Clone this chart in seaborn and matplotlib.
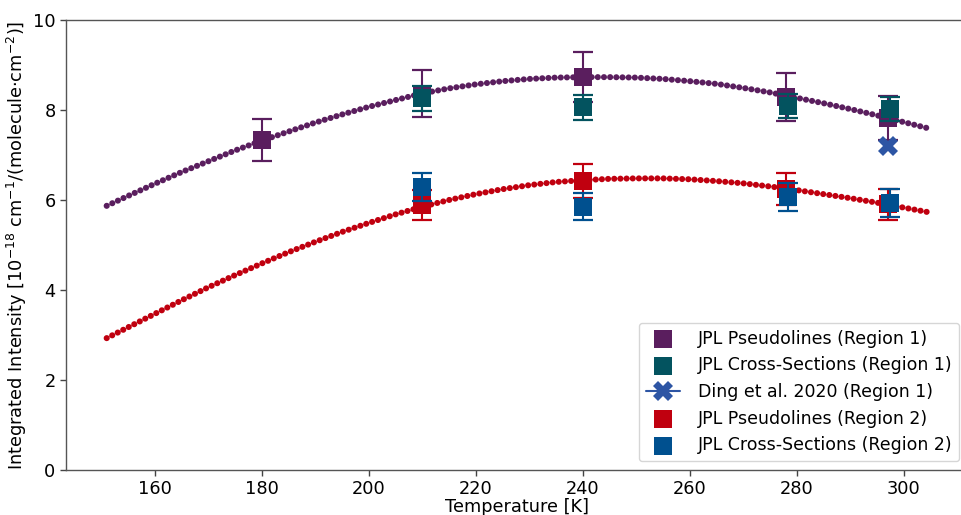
import matplotlib
matplotlib.use("Agg")
import matplotlib.pyplot as plt
import seaborn as sns

# Band-intensity fits (temperature grid and fitted values)
fit_temp = [151, 155, 160, 165, 170, 175, 180, 185, 190, 195, 200, 205, 210, 215,
            220, 225, 230, 235, 240, 245, 250, 255, 260, 265, 270, 275, 280, 285,
            290, 295, 300, 305]
fit_region1 = [5.87, 6.09, 6.36, 6.62, 6.86, 7.10, 7.32, 7.52, 7.72, 7.90, 8.07, 8.22,
               8.37, 8.48, 8.57, 8.64, 8.69, 8.72, 8.73, 8.73, 8.72, 8.69, 8.64, 8.58,
               8.49, 8.39, 8.27, 8.15, 8.02, 7.88, 7.73, 7.58]
fit_region2 = [2.93, 3.17, 3.47, 3.77, 4.06, 4.33, 4.59, 4.84, 5.07, 5.29, 5.49, 5.68,
               5.85, 6.00, 6.13, 6.24, 6.33, 6.40, 6.44, 6.47, 6.48, 6.48, 6.46, 6.42,
               6.37, 6.30, 6.22, 6.13, 6.04, 5.94, 5.83, 5.72]

# Measurements
pl_temp = [180, 210, 240, 278, 297]
pl_r1 = [7.33, 8.36, 8.73, 8.29, 7.82]
pl_r1_err = [0.47, 0.52, 0.56, 0.53, 0.49]
pl_r2 = [None, 5.89, 6.42, 6.24, 5.90]
pl_r2_err = [None, 0.33, 0.38, 0.36, 0.34]

xs_temp = [210, 240, 278.3, 297.5]
xs_r1 = [8.26, 8.06, 8.09, 8.02]
xs_r1_err = [0.28, 0.28, 0.27, 0.27]
xs_r2 = [6.29, 5.85, 6.07, 5.93]
xs_r2_err = [0.32, 0.30, 0.31, 0.31]

ding_temp = [297]
ding_r1 = [7.21]

labels = ["JPL Pseudolines (Region 1)", "JPL Cross-Sections (Region 1)",
          "Ding et al. 2020 (Region 1)", "JPL Pseudolines (Region 2)",
          "JPL Cross-Sections (Region 2)"]

c_pl1 = "#5A1E5E"
c_xs1 = "#03535F"
c_ding = "#2D55A4"
c_pl2 = "#C0000F"
c_xs2 = "#00508F"

sns.set_theme(style="ticks")
plt.rcParams["font.family"] = ["DejaVu Sans"]
plt.rcParams["font.size"] = 12
plt.rcParams["text.color"] = "black"
plt.rcParams["axes.labelcolor"] = "black"
plt.rcParams["xtick.color"] = "black"
plt.rcParams["ytick.color"] = "black"

fig = plt.figure(figsize=(9.61, 5.15), dpi=100)
ax = fig.add_axes([0.0687, 0.0874, 0.9386, 0.8738])

dot_style = dict(linewidth=4.4, linestyle=(0, (0.01, 1.0)),
                 dash_capstyle="round", zorder=2)
sns.lineplot(x=fit_temp, y=fit_region1, ax=ax, color=c_pl1, **dot_style)
sns.lineplot(x=fit_temp, y=fit_region2, ax=ax, color=c_pl2, **dot_style)

msize = 150
err_kw = dict(fmt="none", capsize=7, elinewidth=1.5, capthick=1.6)


def draw_series(t, v, e, color, label, z):
    pts = [(a, b, c) for a, b, c in zip(t, v, e) if b is not None]
    tt = [p[0] for p in pts]
    vv = [p[1] for p in pts]
    ee = [p[2] for p in pts]
    ax.errorbar(tt, vv, yerr=ee, ecolor=color, zorder=z, **err_kw)
    sns.scatterplot(x=tt, y=vv, ax=ax, marker="s", s=msize, color=color,
                    edgecolor=color, linewidth=0, label=label, zorder=z + 1)


draw_series(pl_temp, pl_r1, pl_r1_err, c_pl1, labels[0], 3)
draw_series(xs_temp, xs_r1, xs_r1_err, c_xs1, labels[1], 5)
sns.lineplot(x=ding_temp, y=ding_r1, ax=ax, color=c_ding, marker="X",
             markersize=14, markeredgewidth=0, linewidth=1.5,
             label=labels[2], zorder=20)
draw_series(pl_temp, pl_r2, pl_r2_err, c_pl2, labels[3], 7)
draw_series(xs_temp, xs_r2, xs_r2_err, c_xs2, labels[4], 9)

ax.set_xlim(143.4, 312)
ax.set_ylim(0, 10)
ax.set_xticks([160, 180, 200, 220, 240, 260, 280, 300])
ax.set_yticks([0, 2, 4, 6, 8, 10])
ax.tick_params(labelsize=12.8, color="#444444", width=1.0, length=4)
ax.tick_params(axis="x", pad=3)
for sp in ax.spines.values():
    sp.set_color("#555555")
    sp.set_linewidth(1.0)
ax.set_xlabel("Temperature [K]", fontsize=12.8, labelpad=0.5)
ax.set_ylabel("Integrated Intensity [$10^{-18}$ cm$^{-1}$/(molecule·cm$^{-2}$)]",
              fontsize=12.8, labelpad=3)

leg = ax.legend(loc="lower right", fontsize=12.5, frameon=True,
                handletextpad=1.0)

fig.savefig("out.png", dpi=100)
